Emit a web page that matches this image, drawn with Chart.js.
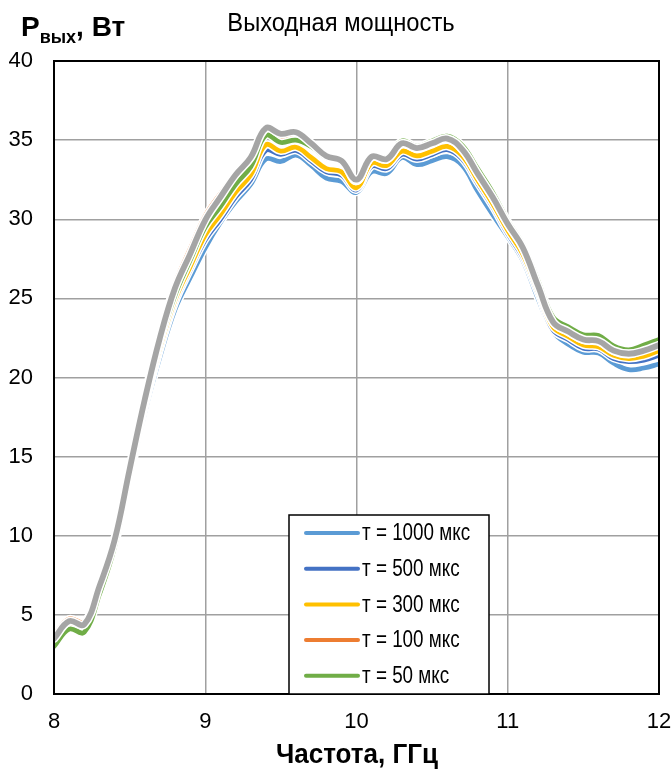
<!DOCTYPE html>
<html>
<head>
<meta charset="utf-8">
<title>Выходная мощность</title>
<script src="https://cdn.jsdelivr.net/npm/chart.js@4.4.1/dist/chart.umd.min.js"></script>
<style>
    html, body { margin: 0; padding: 0; background: #fff; }
    #wrap { width: 672px; height: 769px; }
</style>
</head>
<body>
<div id="wrap"><canvas id="graphPuissance" width="672" height="769"></canvas></div>
<script>
// ============================================
// Données : puissance de sortie (W) selon la fréquence (GHz)
// ============================================
var frequences = [
    8.0, 8.1, 8.2, 8.3, 8.4, 8.5, 8.6, 8.7, 8.8, 8.9,
    9.0, 9.1, 9.2, 9.3, 9.4, 9.5, 9.6, 9.7, 9.8, 9.9,
    10.0, 10.1, 10.2, 10.3, 10.4, 10.5, 10.6, 10.7, 10.8, 10.9,
    11.0, 11.1, 11.2, 11.3, 11.4, 11.5, 11.6, 11.7, 11.8, 11.9, 12.0
];

var p1000 = [
    3.2, 4.3, 4.15, 6.4, 9.3, 13.6, 17.8, 21.3, 24.3, 26.3,
    28.2, 29.8, 31.1, 32.2, 33.8, 33.65, 34.05, 33.4, 32.6, 32.4,
    31.7, 33.0, 32.9, 33.9, 33.45, 33.7, 33.95, 33.4, 31.8, 30.3,
    28.9, 27.4, 25.0, 22.9, 22.1, 21.6, 21.55, 20.9, 20.5, 20.6, 20.85
];
var p500 = [
    3.3, 4.4, 4.2, 6.45, 9.35, 13.8, 18.1, 21.7, 24.7, 26.8,
    28.7, 30.0, 31.4, 32.5, 34.35, 34.1, 34.35, 33.7, 33.0, 32.8,
    31.85, 33.35, 33.2, 34.1, 33.8, 34.1, 34.4, 33.8, 32.3, 30.8,
    29.1, 27.6, 25.3, 23.0, 22.4, 21.85, 21.8, 21.2, 21.0, 21.1, 21.4
];
var p300 = [
    3.3, 4.4, 4.2, 6.5, 9.4, 13.9, 18.2, 21.9, 24.9, 27.0,
    29.0, 30.3, 31.7, 32.8, 34.7, 34.3, 34.55, 33.9, 33.2, 33.0,
    32.0, 33.55, 33.4, 34.3, 34.0, 34.3, 34.6, 34.0, 32.5, 31.0,
    29.3, 27.8, 25.5, 23.2, 22.6, 22.05, 21.95, 21.4, 21.2, 21.35, 21.7
];
var p100 = [
    3.7, 4.75, 4.55, 6.9, 9.9, 14.4, 18.9, 22.8, 25.9, 28.1,
    30.2, 31.6, 32.9, 34.0, 35.55, 35.25, 35.4, 34.75, 33.95, 33.7,
    32.4, 33.9, 33.75, 34.75, 34.45, 34.75, 35.05, 34.35, 32.85, 31.35,
    29.65, 28.15, 25.75, 23.45, 22.85, 22.35, 22.25, 21.65, 21.45, 21.75, 22.4
];
var p50 = [
    3.0, 4.1, 3.9, 6.3, 9.3, 13.8, 18.3, 22.2, 25.2, 27.4,
    29.5, 30.8, 32.2, 33.3, 35.3, 34.85, 35.0, 34.6, 33.9, 33.7,
    32.4, 34.0, 33.9, 34.95, 34.6, 34.95, 35.25, 34.65, 33.2, 31.7,
    29.9, 28.4, 26.1, 23.8, 23.2, 22.7, 22.65, 22.0, 21.75, 22.05, 22.4
];
// courbe grise (hors légende)
var pGris = [
    3.5, 4.6, 4.4, 6.8, 9.7, 14.2, 18.6, 22.5, 25.65, 27.8,
    29.95, 31.4, 32.8, 33.9, 35.75, 35.4, 35.5, 34.8, 34.0, 33.7,
    32.5, 33.95, 33.8, 34.8, 34.5, 34.8, 35.1, 34.4, 32.9, 31.4,
    29.7, 28.2, 25.8, 23.5, 22.9, 22.4, 22.3, 21.7, 21.5, 21.7, 22.05
];

var etiquettes = ["т = 1000 мкс", "т = 500 мкс", "т = 300 мкс", "т = 100 мкс", "т = 50 мкс"];
var graduationsX = [8, 9, 10, 11, 12];
var graduationsY = [0, 5, 10, 15, 20, 25, 30, 35, 40];

var POLICE = '"Liberation Sans", Arial, sans-serif';

// Series du dessus vers le dessous (Chart.js dessine l'indice 0 en dernier)
var series = [
    { nom: "", valeurs: pGris, couleur: "#a5a5a5", epaisseur: 5.8 },
    { nom: etiquettes[4], valeurs: p50, couleur: "#70ad47", epaisseur: 4.8 },
    { nom: etiquettes[3], valeurs: p100, couleur: "#ed7d31", epaisseur: 4.8 },
    { nom: etiquettes[2], valeurs: p300, couleur: "#ffc000", epaisseur: 4.8 },
    { nom: etiquettes[1], valeurs: p500, couleur: "#4472c4", epaisseur: 4.8 },
    { nom: etiquettes[0], valeurs: p1000, couleur: "#5b9bd5", epaisseur: 4.8 }
];

function points(valeurs) {
    return frequences.map(function (f, i) { return { x: f, y: valeurs[i] }; });
}

var datasets = [];
series.forEach(function (s) {
    // trait coloré
    datasets.push({
        label: s.nom,
        data: points(s.valeurs),
        borderColor: s.couleur,
        backgroundColor: s.couleur,
        borderWidth: s.epaisseur,
        pointRadius: 0,
        tension: 0.4,
        borderCapStyle: "round",
        borderJoinStyle: "round",
        dansLegende: s.nom !== ""
    });
    // liseré blanc dessous
    datasets.push({
        label: "",
        data: points(s.valeurs),
        borderColor: "#ffffff",
        borderWidth: s.epaisseur + 3,
        pointRadius: 0,
        tension: 0.4,
        borderCapStyle: "round",
        borderJoinStyle: "round",
        dansLegende: false
    });
});

// texte resserré horizontalement (imitation d'une police "Narrow")
function texteEtroit(ctx, texte, x, y, police, align, etroit) {
    ctx.save();
    ctx.font = police;
    var w = ctx.measureText(texte).width * etroit;
    var x0 = x;
    if (align === "center") x0 = x - w / 2;
    if (align === "right") x0 = x - w;
    ctx.translate(x0, y);
    ctx.scale(etroit, 1);
    ctx.textAlign = "left";
    ctx.fillText(texte, 0, 0);
    ctx.restore();
    return w;
}

// ============================================
// Textes et légende dessinés à la main
// ============================================
var habillage = {
    id: "habillage",
    afterDraw: function (chart) {
        var ctx = chart.ctx;
        var zone = chart.chartArea;
        ctx.save();

        // cadre noir
        ctx.strokeStyle = "#000";
        ctx.lineWidth = 2;
        ctx.strokeRect(zone.left, zone.top, zone.right - zone.left, zone.bottom - zone.top);

        ctx.fillStyle = "#000";
        ctx.textBaseline = "alphabetic";

        // titre
        texteEtroit(ctx, "Выходная мощность", 341, 31, "25px " + POLICE, "center", 0.95);

        // titre de l'axe X
        texteEtroit(ctx, "Частота, ГГц", 357, 763, "bold 28px " + POLICE, "center", 0.93);

        // titre de l'axe Y : P_вых, Вт
        var x = 21;
        x += texteEtroit(ctx, "P", x, 36, "bold 28px " + POLICE, "left", 1);
        x += texteEtroit(ctx, "вых", x, 43, "bold 18px " + POLICE, "left", 1);
        texteEtroit(ctx, ", Вт", x, 36, "bold 28px " + POLICE, "left", 1);

        // légende
        var lx = 289, ly = 515, lw = 200, lh = 179;
        ctx.fillStyle = "#fff";
        ctx.fillRect(lx, ly, lw, lh);
        ctx.strokeStyle = "#000";
        ctx.lineWidth = 1.5;
        ctx.strokeRect(lx, ly, lw, lh);

        var items = chart.data.datasets.filter(function (d) { return d.dansLegende; }).reverse();
        ctx.textBaseline = "middle";
        items.forEach(function (d, i) {
            var y = ly + 18 + i * 35.7;
            ctx.strokeStyle = d.borderColor;
            ctx.lineWidth = 4;
            ctx.lineCap = "round";
            ctx.beginPath();
            ctx.moveTo(306, y);
            ctx.lineTo(358, y);
            ctx.stroke();
            ctx.fillStyle = "#000";
            texteEtroit(ctx, d.label, 362, y + 1, "23px " + POLICE, "left", 0.82);
        });
        ctx.restore();
    }
};

var ctx = document.getElementById("graphPuissance").getContext("2d");
new Chart(ctx, {
    type: "line",
    data: { datasets: datasets },
    options: {
        responsive: false,
        animation: false,
        events: [],
        layout: { padding: { left: 0, right: 13, top: 61, bottom: 0 } },
        plugins: {
            legend: { display: false },
            title: { display: false },
            tooltip: { enabled: false }
        },
        scales: {
            x: {
                type: "linear",
                min: 8,
                max: 12,
                afterFit: function (scale) {
                    scale.height = 75;
                    scale.paddingLeft = 0;
                    scale.paddingRight = 0;
                },
                afterBuildTicks: function (scale) {
                    scale.ticks = graduationsX.map(function (v) { return { value: v }; });
                },
                grid: { color: "#a0a0a0", lineWidth: 1.5, drawTicks: false },
                border: { display: false },
                ticks: {
                    padding: 15,
                    color: "#000",
                    font: { family: POLICE, size: 22 },
                    maxRotation: 0
                }
            },
            y: {
                min: 0,
                max: 40,
                afterFit: function (scale) {
                    scale.width = 54;
                    scale.paddingTop = 0;
                    scale.paddingBottom = 0;
                },
                afterBuildTicks: function (scale) {
                    scale.ticks = graduationsY.map(function (v) { return { value: v }; });
                },
                grid: { color: "#a0a0a0", lineWidth: 1.5, drawTicks: false },
                border: { display: false },
                ticks: {
                    padding: 21,
                    color: "#000",
                    font: { family: POLICE, size: 22 }
                }
            }
        }
    },
    plugins: [habillage]
});
</script>
</body>
</html>
